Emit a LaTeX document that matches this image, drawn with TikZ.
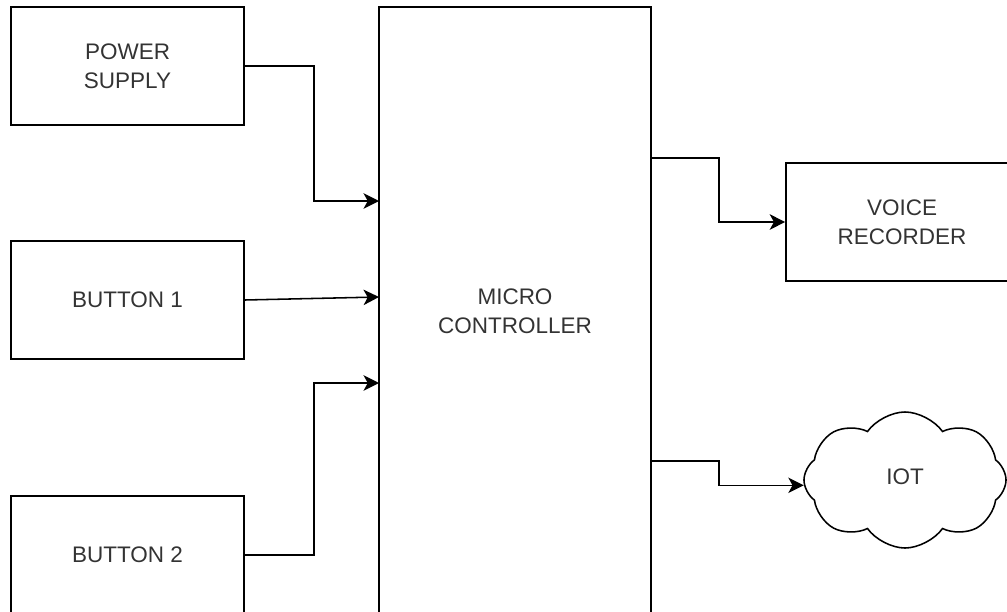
\documentclass[tikz,border=0pt]{standalone}
\usepackage{fontspec}
\setmainfont{Liberation Sans}
\usetikzlibrary{arrows.meta,shapes.symbols}

\begin{document}
\begin{tikzpicture}[x=0.025cm, y=-0.025cm,
  block/.style={rectangle, draw=black, line width=1.1pt, minimum width=5.825cm, minimum height=2.95cm, align=center, text=black!80, font=\fontsize{16}{20.5}\selectfont},
  arrow/.style={-{Stealth[length=11pt, width=11pt, inset=3pt]}, line width=1.1pt}
]
\useasboundingbox (0,0) rectangle (1007,612);
\clip (0,0) rectangle (1007,612);

\node[block] (psu) at (127.5,66) {POWER\\SUPPLY};
\node[block] (btn1) at (127.5,300) {BUTTON 1};
\node[block] (btn2) at (127.5,555) {BUTTON 2};
\node[block, minimum width=6.8cm, minimum height=15.2cm] (mcu) at (515,311) {MICRO\\CONTROLLER};
\node[block, minimum width=5.8cm] (voice) at (902,222) {VOICE\\RECORDER};
\node[cloud, draw=black, line width=1.1pt, cloud puffs=8, cloud puff arc=110, cloud ignores aspect, minimum width=5.05cm, minimum height=3.4cm, text=black!80, font=\fontsize{16}{20.5}\selectfont, text depth=5pt] (iot) at (905,480) {IOT};

% inputs on the controller
\coordinate (in1) at (379,201);
\coordinate (in2) at (379,297);
\coordinate (in3) at (379,383);

\draw[arrow] (psu.east) -- ++(69,0) |- (in1);
\draw[arrow] (btn1.east) -- (in2);
\draw[arrow] (btn2.east) -- ++(69,0) |- (in3);
\draw[arrow] (mcu.east |- 0,158) -- ++(67,0) |- (voice.west);
\draw[arrow] (mcu.east |- 0,461) -- ++(67,0) |- (iot.183);

\end{tikzpicture}
\end{document}
